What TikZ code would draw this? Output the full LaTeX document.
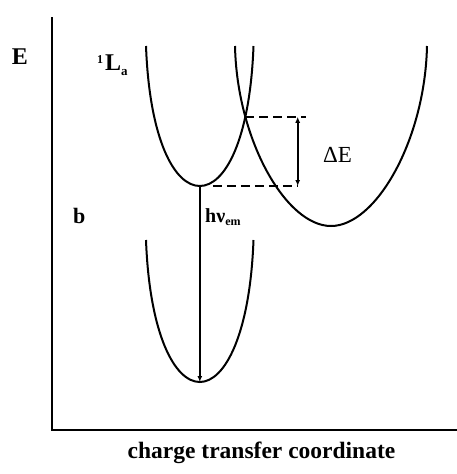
\documentclass[tikz,border=0pt]{standalone}
\usepackage{fontspec}
\setmainfont{Liberation Serif}
\usetikzlibrary{arrows.meta,intersections,calc}
\begin{document}
\begin{tikzpicture}[x=1pt,y=-1pt,
  curve/.style={line width=2pt},
  axis/.style={line width=2pt},
  dashline/.style={line width=1.8pt,dash pattern=on 9pt off 5pt},
  arr/.style={line width=1.7pt},
  lbl/.style={inner sep=0pt,font=\fontsize{22}{22}\selectfont}]
\useasboundingbox (0,0) rectangle (457,474);
% axes
\coordinate (O) at (52,430);
\coordinate (Ytop) at (52,17);
\coordinate (Xend) at (457,430);
\draw[axis] (Ytop) -- (O) -- (Xend);
% upper-left curve (1La)
\draw[curve, name path=A] (146,46) .. controls (149.5,140) and (174.6,186) .. (199.8,186)
      .. controls (225,186) and (250,140) .. (253.5,46);
\coordinate (Amin) at (199.8,186);
% upper-right curve (CT)
\draw[curve, name path=C] (235,46) .. controls (237,140) and (286,226) .. (331,226)
      .. controls (376,226) and (425,140) .. (427,46);
% lower curve (b)
\draw[curve] (146,240) .. controls (149.5,334) and (174.6,382) .. (199.8,382)
      .. controls (225,382) and (250,334) .. (253.5,240);
\coordinate (Bmin) at (199.8,382);
% crossing
\path[name intersections={of=A and C, by=X}];
\coordinate (Dx) at (297.7,0);
% dashed levels
\draw[dashline] (X) -- ($(X)+(61,0)$);
\draw[dashline] ($(Amin)+(13,0)$) -- (Dx |- Amin);
% Delta E arrow
\draw[arr,{Latex[length=6pt,width=5pt]}-{Latex[length=6pt,width=5pt]}] (Dx |- X) -- (Dx |- Amin);
% emission arrow
\draw[arr,-{Latex[length=6pt,width=5pt]}] (Amin) -- (Bmin);
% labels
\node[lbl,font=\fontsize{24}{24}\selectfont\bfseries] (E) at (20,57) {E};
\node[lbl,anchor=base west,font=\fontsize{24}{24}\selectfont\bfseries] (La) at (97,70) {\raisebox{7pt}{\fontsize{12}{12}\selectfont 1}\hspace{2pt}L\raisebox{-5pt}{\fontsize{13}{13}\selectfont a}};
\node[lbl,anchor=base west,font=\fontsize{22}{22}\selectfont\bfseries] (b) at (73,223) {b};
\node[lbl,anchor=base west,font=\fontsize{23}{23}\selectfont] (dE) at (323,162) {ΔE};
\node[lbl,anchor=base west,font=\fontsize{20}{20}\selectfont\bfseries] (hv) at (205,222) {hν\raisebox{-3pt}{\fontsize{12}{12}\selectfont em}};
\node[lbl,anchor=base,font=\fontsize{23.5}{24}\selectfont\bfseries] (cap) at (261.5,458) {charge transfer coordinate};
\end{tikzpicture}
\end{document}
